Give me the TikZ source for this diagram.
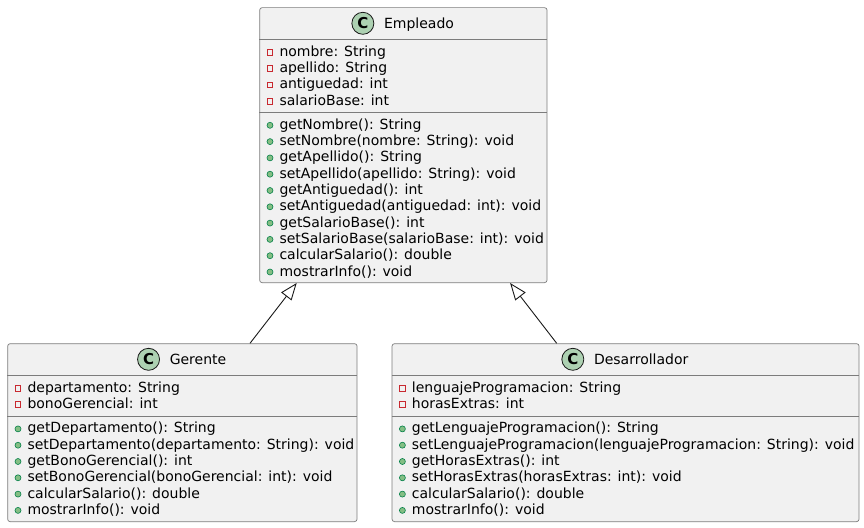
\documentclass[tikz,border=0pt]{standalone}
\usepackage{fontspec}
\setmainfont{DejaVu Sans}
\usetikzlibrary{arrows.meta}
\definecolor{boxfill}{HTML}{F1F1F1}
\definecolor{boxline}{HTML}{7C7C7C}
\definecolor{arrowline}{HTML}{181818}
\definecolor{circfill}{HTML}{ADD1B2}
\definecolor{privred}{HTML}{C82930}
\definecolor{pubfill}{HTML}{84BE84}
\definecolor{publine}{HTML}{038048}
\tikzset{
  classbox/.style={draw=boxline, fill=boxfill, line width=0.7pt, rounded corners=2.5pt, inner sep=0pt, anchor=north west},
  sepline/.style={draw=boxline, line width=0.7pt},
  member/.style={anchor=base west, inner sep=0pt, font=\fontsize{14}{16.3}\selectfont, text=black},
  title/.style={anchor=base, inner sep=0pt, font=\fontsize{14}{16.3}\selectfont, text=black},
  cbadge/.style={circle, draw=arrowline, fill=circfill, line width=0.8pt, minimum size=22pt, inner sep=0pt, font=\fontsize{15}{15}\selectfont\bfseries},
  privicon/.style={rectangle, draw=privred, line width=0.8pt, minimum size=5.5pt, inner sep=0pt},
  pubicon/.style={circle, draw=publine, fill=pubfill, line width=0.6pt, minimum size=6pt, inner sep=0pt},
  extends/.style={draw=arrowline, line width=0.9pt, -{Triangle[length=17pt, width=13pt, fill=white]}},
}
\begin{document}
\begin{tikzpicture}[x=1pt, y=-1pt]
\useasboundingbox (0,0) rectangle (864,527);
% ---------- Empleado ----------
\node[classbox, minimum width=287.4pt, minimum height=275pt] (emp) at (259.3,7.3) {};
\draw[sepline] (259.3,39.3) -- (546.7,39.3);
\draw[sepline] (259.3,112.3) -- (546.7,112.3);
\node[title] (empT) at (419,28.2) {Empleado};
\node[cbadge] (empC) at ([xshift=-21pt]empT.west |- 0,23.3) {C};
\foreach \t [count=\i] in {nombre: String, apellido: String, antiguedad: int, salarioBase: int}{
  \node[member] (empF\i) at (279.3,{56.3+16.3*(\i-1)}) {\t};
  \node[privicon] (empFi\i) at (270,{52.3+16.3*(\i-1)}) {};
}
\foreach \t [count=\i] in {getNombre(): String, setNombre(nombre: String): void, getApellido(): String, setApellido(apellido: String): void, getAntiguedad(): int, setAntiguedad(antiguedad: int): void, getSalarioBase(): int, setSalarioBase(salarioBase: int): void, calcularSalario(): double, mostrarInfo(): void}{
  \node[member] (empM\i) at (279.3,{129.3+16.3*(\i-1)}) {\t};
  \node[pubicon] (empMi\i) at (270,{125.3+16.3*(\i-1)}) {};
}
% ---------- Gerente ----------
\node[classbox, minimum width=349.4pt, minimum height=178pt] (ger) at (7.3,343.3) {};
\draw[sepline] (7.3,375.3) -- (356.7,375.3);
\draw[sepline] (7.3,415.9) -- (356.7,415.9);
\node[title] (gerT) at (198,364.2) {Gerente};
\node[cbadge] (gerC) at ([xshift=-21pt]gerT.west |- 0,359.3) {C};
\foreach \t [count=\i] in {departamento: String, bonoGerencial: int}{
  \node[member] (gerF\i) at (27.3,{392.3+16.3*(\i-1)}) {\t};
  \node[privicon] (gerFi\i) at (18,{388.3+16.3*(\i-1)}) {};
}
\foreach \t [count=\i] in {getDepartamento(): String, setDepartamento(departamento: String): void, getBonoGerencial(): int, setBonoGerencial(bonoGerencial: int): void, calcularSalario(): double, mostrarInfo(): void}{
  \node[member] (gerM\i) at (27.3,{432.9+16.3*(\i-1)}) {\t};
  \node[pubicon] (gerMi\i) at (18,{428.9+16.3*(\i-1)}) {};
}
% ---------- Desarrollador ----------
\node[classbox, minimum width=467pt, minimum height=178pt] (des) at (391.7,343.3) {};
\draw[sepline] (391.7,375.3) -- (858.7,375.3);
\draw[sepline] (391.7,415.9) -- (858.7,415.9);
\node[title] (desT) at (641.2,364.2) {Desarrollador};
\node[cbadge] (desC) at ([xshift=-21pt]desT.west |- 0,359.3) {C};
\foreach \t [count=\i] in {lenguajeProgramacion: String, horasExtras: int}{
  \node[member] (desF\i) at (411.7,{392.3+16.3*(\i-1)}) {\t};
  \node[privicon] (desFi\i) at (402.4,{388.3+16.3*(\i-1)}) {};
}
\foreach \t [count=\i] in {getLenguajeProgramacion(): String, setLenguajeProgramacion(lenguajeProgramacion: String): void, getHorasExtras(): int, setHorasExtras(horasExtras: int): void, calcularSalario(): double, mostrarInfo(): void}{
  \node[member] (desM\i) at (411.7,{432.9+16.3*(\i-1)}) {\t};
  \node[pubicon] (desMi\i) at (402.4,{428.9+16.3*(\i-1)}) {};
}
% ---------- Inheritance ----------
\draw[extends] ([xshift=242.7pt]ger.north west) -- ([xshift=37.4pt]emp.south west);
\draw[extends] ([xshift=165pt]des.north west) -- ([xshift=-37.3pt]emp.south east);
\end{tikzpicture}
\end{document}
